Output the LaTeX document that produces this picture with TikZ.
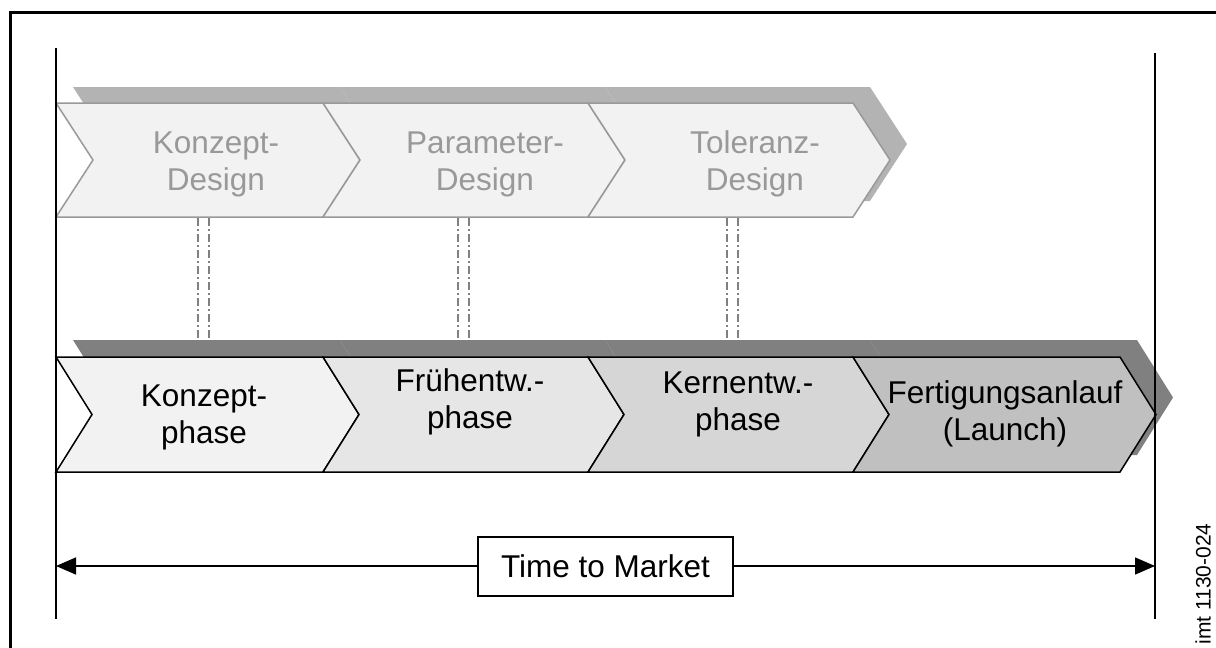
\documentclass[tikz,border=0pt]{standalone}
\usepackage{fontspec}
\setmainfont{Liberation Sans}
\usetikzlibrary{arrows.meta}

\definecolor{shadowlight}{HTML}{B3B3B3}
\definecolor{shadowdark}{HTML}{808080}
\definecolor{paleline}{HTML}{999999}
\definecolor{fillA}{HTML}{F2F2F2}
\definecolor{fillB}{HTML}{E6E6E6}
\definecolor{fillC}{HTML}{D6D6D6}
\definecolor{fillD}{HTML}{C0C0C0}

% chevron outline: left edge x, right edge x, top y, bottom y, tip depth
\newcommand{\chevpath}[5]{(#1,#3) -- (#2,#3) -- ({#2+#5},{(#3+#4)/2}) -- (#2,#4) -- (#1,#4) -- ({#1+#5},{(#3+#4)/2}) -- cycle}

\tikzset{
  bigtext/.style={font=\fontsize{31.5}{37}\selectfont, align=center, inner sep=0pt},
  designchev/.style={fill=fillA, draw=paleline, line width=1.5pt},
  designtext/.style={bigtext, text=paleline},
  phasechev/.style={draw=black, line width=1.5pt},
  phasetext/.style={bigtext, text=black},
  linkline/.style={draw=shadowdark, line width=1.2pt, dash pattern=on 8pt off 3pt on 2pt off 3pt},
  boundary/.style={draw=black, line width=1.6pt},
}

\begin{document}
\begin{tikzpicture}[x=1pt, y=-1pt, line join=miter]
\useasboundingbox (0,0) rectangle (1216,648);
\fill[white] (0,0) rectangle (1216,648);

% outer frame
\draw[line width=3.5pt] (10.7,648) -- (10.7,12.5) -- (1216,12.5);

% design methods row: shadows, then chevrons
\foreach \a/\b in {56/323,323/588,588/853}
  \fill[shadowlight, shift={(17,-16)}] \chevpath{\a}{\b}{103}{217}{37};
\foreach \a/\b in {56/323,323/588,588/853}
  \path[designchev] \chevpath{\a}{\b}{103}{217}{37};

\node[designtext] (konzeptdesign)   at (216,164) {Konzept-\\Design};
\node[designtext] (parameterdesign) at (485,164) {Parameter-\\Design};
\node[designtext] (toleranzdesign)  at (755,164) {Toleranz-\\Design};

% links between the rows
\coordinate (k1) at (198,218); \coordinate (k2) at (209,218);
\coordinate (p1) at (458,218); \coordinate (p2) at (469,218);
\coordinate (t1) at (727,218); \coordinate (t2) at (738,218);
\coordinate (k1b) at (198,340); \coordinate (k2b) at (209,340);
\coordinate (p1b) at (458,340); \coordinate (p2b) at (469,340);
\coordinate (t1b) at (727,340); \coordinate (t2b) at (738,340);
\foreach \u in {k1,k2,p1,p2,t1,t2}
  \path[linkline] (\u) -- (\u b);

% development phases row: shadows, then chevrons
\foreach \a/\b in {56/323,323/588,588/853,853/1120}
  \fill[shadowdark, shift={(17,-17)}] \chevpath{\a}{\b}{357}{472}{36};
\path[phasechev, fill=fillA] \chevpath{56}{323}{357}{472}{36};
\path[phasechev, fill=fillB] \chevpath{323}{588}{357}{472}{36};
\path[phasechev, fill=fillC] \chevpath{588}{853}{357}{472}{36};
\path[phasechev, fill=fillD] \chevpath{853}{1120}{357}{472}{36};

\node[phasetext] (konzeptphase) at (204,417) {Konzept-\\phase};
\node[phasetext] (fruehphase)   at (470,402) {Frühentw.-\\phase};
\node[phasetext] (kernphase)    at (738,404) {Kernentw.-\\phase};
\node[phasetext] (launch)       at (1005,414) {Fertigungsanlauf\\(Launch)};

% start and end of the time span
\coordinate (startTop) at (56,48);   \coordinate (startBot) at (56,619);
\coordinate (endTop)   at (1155,53); \coordinate (endBot)   at (1155,619);
\path[boundary] (startTop) -- (startBot);
\path[boundary] (endTop) -- (endBot);

% time to market arrow
\coordinate (arrowL) at (56,566);
\coordinate (arrowR) at (1155,566);
\draw[line width=1.5pt, {Triangle[length=20pt,width=17pt]}-{Triangle[length=20pt,width=17pt]}] (arrowL) -- (arrowR);
\node[draw=black, fill=white, line width=1.5pt, minimum width=255pt, minimum height=59pt,
      font=\fontsize{31.5}{37}\selectfont, inner sep=0pt] (ttm) at (605.5,566.5) {Time to Market};

% figure id
\node[rotate=90, font=\fontsize{21}{24}\selectfont, inner sep=0pt] (figid) at (1203,584) {imt 1130-024};
\end{tikzpicture}
\end{document}
